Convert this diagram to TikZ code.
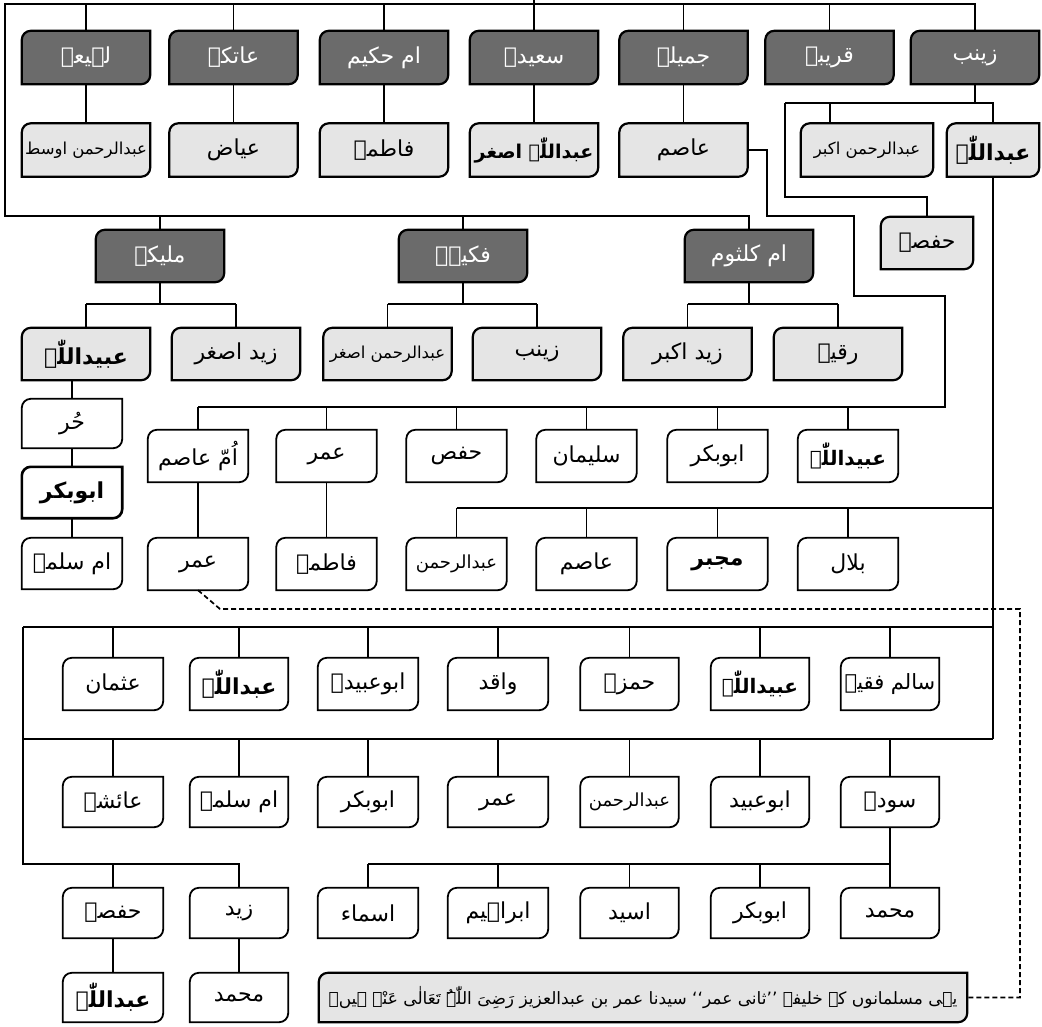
\documentclass[tikz,border=0pt]{standalone}
\usepackage{fontspec}
\usetikzlibrary{backgrounds}
\newfontfamily\urdu[Script=Arabic]{DejaVu Sans}
\TeXXeTstate=1
\newcommand\utxt[1]{\beginR #1\endR}
\newcommand\bxshape[2]{\path[#2] ([yshift=-9pt]#1.north west) arc[start angle=180,end angle=90,radius=9pt] -- (#1.north east) -- ([yshift=9pt]#1.south east) arc[start angle=0,end angle=-90,radius=9pt] -- (#1.south west) -- cycle;}
\tikzset{
  sz/.style={font=\urdu\fontsize{#1}{#1}\selectfont},
  szb/.style={font=\urdu\bfseries\fontsize{#1}{#1}\selectfont},
  nb/.style={inner sep=0pt, sz=22},
  heavy/.style={szb=22},
  wife/.style={nb, minimum width=128pt, minimum height=53pt, text=white},
  kid/.style={nb, minimum width=128pt, minimum height=53pt},
  gk/.style={nb, minimum width=100pt, minimum height=52pt},
  capn/.style={inner sep=0pt, sz=17, minimum width=648pt, minimum height=49pt},
  conn/.style={line width=1.7pt},
  dashc/.style={line width=1.7pt, dash pattern=on 5pt off 3pt},
  darkbox/.style={fill=black!58, draw=black, line width=2.2pt},
  lightbox/.style={fill=black!10, draw=black, line width=2.2pt},
  whitebox/.style={fill=white, draw=black, line width=1.8pt},
  thickbox/.style={fill=white, draw=black, line width=2.6pt},
}
\begin{document}
\begin{tikzpicture}[x=1pt,y=1pt]
\useasboundingbox (0,0) rectangle (1042,-1026);
% wives, first row
\node[wife] (wLah) at (86,-57.5) {\utxt{لہیعہ}};
\node[wife] (wAat) at (233.5,-57.5) {\utxt{عاتکہ}};
\node[wife] (wUmH) at (384,-57.5) {\utxt{ام حکیم}};
\node[wife] (wSae) at (534,-57.5) {\utxt{سعیدہ}};
\node[wife] (wJam) at (683.5,-57.5) {\utxt{جمیلہ}};
\node[wife] (wQar) at (829.5,-57.5) {\utxt{قریبہ}};
\node[wife] (wZay) at (975,-57.5) {\utxt{زینب}};
% children, first row
\node[kid,sz=16.5] (cAro) at (86,-150) {\utxt{عبدالرحمن اوسط}};
\node[kid] (cIya) at (233.5,-150) {\utxt{عیاض}};
\node[kid] (cFat) at (384,-150) {\utxt{فاطمہ}};
\node[kid,szb=19] (cAsg) at (534,-150) {\utxt{عبداللّٰہ اصغر}};
\node[kid] (cAsi) at (683.5,-150) {\utxt{عاصم}};
\node[kid,minimum width=132pt,sz=16.5] (cArk) at (867,-150) {\utxt{عبدالرحمن اکبر}};
\node[kid,heavy,minimum width=92pt] (cAbd) at (993,-150) {\utxt{عبداللّٰہ}};
\node[kid,minimum width=92pt,minimum height=52pt] (cHaf) at (927,-243) {\utxt{حفصہ}};
% wives, second row
\node[wife,minimum height=52pt] (wMal) at (160,-256) {\utxt{ملیکہ}};
\node[wife,minimum height=52pt] (wFak) at (463,-256) {\utxt{فکیہہ}};
\node[wife,minimum height=52pt] (wUmK) at (749,-256) {\utxt{ام کلثوم}};
% children, second row
\node[kid,heavy,minimum height=52pt] (cUbd) at (86,-354) {\utxt{عبیداللّٰہ}};
\node[kid,minimum height=52pt] (cZas) at (236,-354) {\utxt{زید اصغر}};
\node[kid,minimum height=52pt,sz=16.5] (cAra) at (387.5,-354) {\utxt{عبدالرحمن اصغر}};
\node[kid,minimum height=52pt] (cZyn) at (537,-354) {\utxt{زینب}};
\node[kid,minimum height=52pt] (cZak) at (687.5,-354) {\utxt{زید اکبر}};
\node[kid,minimum height=52pt] (cRuq) at (838,-354) {\utxt{رقیہ}};
% chain under Ubaidullah
\node[gk,minimum height=49pt] (gHur) at (72,-423.5) {\utxt{حُر}};
\node[gk,heavy,minimum height=51pt] (gAbk) at (72,-492.5) {\utxt{ابوبکر}};
\node[gk,minimum height=51pt] (gUms) at (72,-563.5) {\utxt{ام سلمہ}};
% children of Asim
\node[gk] (aUma) at (198,-456) {\utxt{اُمّ عاصم}};
\node[gk] (aUmr) at (326.5,-456) {\utxt{عمر}};
\node[gk] (aHfs) at (456.5,-456) {\utxt{حفص}};
\node[gk] (aSul) at (586.5,-456) {\utxt{سلیمان}};
\node[gk] (aAbk) at (717.5,-456) {\utxt{ابوبکر}};
\node[gk,szb=20] (aUbd) at (848,-456) {\utxt{عبیداللّٰہ}};
\node[gk] (aUmr2) at (198,-564) {\utxt{عمر}};
\node[gk] (aFat) at (326.5,-564) {\utxt{فاطمہ}};
% children of Abdullah
\node[gk,sz=18] (bAbr) at (456.5,-564) {\utxt{عبدالرحمن}};
\node[gk] (bAsm) at (586.5,-564) {\utxt{عاصم}};
\node[gk,heavy] (bMjb) at (717.5,-564) {\utxt{مجبر}};
\node[gk] (bBll) at (848,-564) {\utxt{بلال}};
\node[gk] (r1a) at (113,-684) {\utxt{عثمان}};
\node[gk,heavy,minimum width=98pt] (r1b) at (239,-684) {\utxt{عبداللّٰہ}};
\node[gk] (r1c) at (368,-684) {\utxt{ابوعبیدہ}};
\node[gk] (r1d) at (498,-684) {\utxt{واقد}};
\node[gk,minimum width=98pt] (r1e) at (629.5,-684) {\utxt{حمزہ}};
\node[gk,szb=20,minimum width=98pt] (r1f) at (760,-684) {\utxt{عبیداللّٰہ}};
\node[gk,sz=21,minimum width=98pt] (r1g) at (890,-684) {\utxt{سالم فقیہ}};
\node[gk,minimum height=50pt] (r2a) at (113,-802) {\utxt{عائشہ}};
\node[gk,minimum height=50pt,minimum width=98pt] (r2b) at (239,-802) {\utxt{ام سلمہ}};
\node[gk,minimum height=50pt] (r2c) at (368,-802) {\utxt{ابوبکر}};
\node[gk,minimum height=50pt] (r2d) at (498,-802) {\utxt{عمر}};
\node[gk,sz=18,minimum height=50pt,minimum width=98pt] (r2e) at (629.5,-802) {\utxt{عبدالرحمن}};
\node[gk,minimum height=50pt,minimum width=98pt] (r2f) at (760,-802) {\utxt{ابوعبید}};
\node[gk,minimum height=50pt,minimum width=98pt] (r2g) at (890,-802) {\utxt{سودہ}};
\node[gk,minimum height=50pt] (r3a) at (113,-913) {\utxt{حفصہ}};
\node[gk,minimum height=50pt,minimum width=98pt] (r3b) at (239,-913) {\utxt{زید}};
\node[gk,minimum height=50pt] (r3c) at (368,-913) {\utxt{اسماء}};
\node[gk,minimum height=50pt] (r3d) at (498,-913) {\utxt{ابراہیم}};
\node[gk,minimum height=50pt,minimum width=98pt] (r3e) at (629.5,-913) {\utxt{اسید}};
\node[gk,minimum height=50pt,minimum width=98pt] (r3f) at (760,-913) {\utxt{ابوبکر}};
\node[gk,minimum height=50pt,minimum width=98pt] (r3g) at (890,-913) {\utxt{محمد}};
\node[gk,heavy,minimum height=49pt] (r4a) at (113,-997.5) {\utxt{عبداللّٰہ}};
\node[gk,minimum height=49pt,minimum width=98pt] (r4b) at (239,-997.5) {\utxt{محمد}};
\node[capn] (cap) at (643,-997.5) {\utxt{یہی مسلمانوں کے خلیفہ ’’ثانی عمر‘‘ سیدنا عمر بن عبدالعزیز رَضِیَ اللّٰہُ تَعَالٰی عَنْہ ہیں۔}};

\begin{pgfonlayer}{background}
\foreach \n in {wLah,wAat,wUmH,wSae,wJam,wQar,wZay,wMal,wFak,wUmK} {\bxshape{\n}{darkbox}}
\foreach \n in {cAro,cIya,cFat,cAsg,cAsi,cArk,cAbd,cHaf,cUbd,cZas,cAra,cZyn,cZak,cRuq,cap} {\bxshape{\n}{lightbox}}
\foreach \n in {gHur,gUms,aUma,aUmr,aHfs,aSul,aAbk,aUbd,aUmr2,aFat,bAbr,bAsm,bMjb,bBll,r1a,r1b,r1c,r1d,r1e,r1f,r1g,r2a,r2b,r2c,r2d,r2e,r2f,r2g,r3a,r3b,r3c,r3d,r3e,r3f,r3g,r4a,r4b} {\bxshape{\n}{whitebox}}
\bxshape{gAbk}{thickbox}
\end{pgfonlayer}

\begin{scope}[conn]
\coordinate (par) at (534,0);
\draw (par) -- (wSae.north);
\draw (wZay.north) |- (5,-4) -- (5,-216) -| (wUmK.north);
\foreach \n in {wLah,wAat,wUmH,wJam,wQar} {\draw (\n.north) -- (\n.north |- 0,-4);}
\foreach \n in {wMal,wFak} {\draw (\n.north) -- (\n.north |- 0,-216);}
\foreach \a/\b in {wLah/cAro,wAat/cIya,wUmH/cFat,wSae/cAsg,wJam/cAsi} {\draw (\a.south) -- (\b.north);}
% Zaynab's children
\coordinate (zL) at (785,-103);
\coordinate (zA) at (830,-103);
\coordinate (zH) at (785,-197);
\draw (wZay.south) -- (wZay.south |- zL);
\draw (zL) -- (zL -| cAbd.north) -- (cAbd.north);
\draw (zA) -- (zA |- cArk.north);
\draw (zL) -- (zH) -| (cHaf.north);
% Malika, Fukayha, Umm Kulthum
\foreach \p/\a/\b in {wMal/cUbd/cZas,wFak/cAra/cZyn,wUmK/cZak/cRuq} {
  \draw (\p.south) -- (\p.south |- 0,-304);
  \draw (\a.north |- 0,-304) -- (\b.north |- 0,-304);
  \draw (\a.north) -- (\a.north |- 0,-304);
  \draw (\b.north) -- (\b.north |- 0,-304);
}
\draw (cUbd.south -| gHur.north) -- (gHur.north);
\draw (gHur) -- (gAbk);
\draw (gAbk) -- (gUms);
% Asim's children
\draw (cAsi.east) -| (767,-216) -| (854,-296) -| (945,-407) -- (aUma.north |- 0,-407);
\foreach \n in {aUma,aUmr,aHfs,aSul,aAbk,aUbd} {\draw (\n.north) -- (\n.north |- 0,-407);}
\draw (aUma) -- (aUmr2);
\draw (aUmr) -- (aFat);
% Abdullah's children
\coordinate (bR) at (993,-508);
\draw (cAbd.south) -- (cAbd.south |- 0,-739);
\draw (bAbr.north |- bR) -- (bR);
\foreach \n in {bAbr,bAsm,bMjb,bBll} {\draw (\n.north) -- (\n.north |- bR);}
\coordinate (L1) at (23,-627);
\coordinate (L2) at (23,-739);
\coordinate (L3) at (23,-864);
\draw (L1) -- (L1 -| cAbd.south);
\draw (L2) -- (L2 -| cAbd.south);
\draw (L1) -- (L3) -| (r3b.north);
\foreach \n in {r1a,r1b,r1c,r1d,r1e,r1f,r1g} {\draw (\n.north) -- (\n.north |- L1);}
\foreach \n in {r2a,r2b,r2c,r2d,r2e,r2f,r2g} {\draw (\n.north) -- (\n.north |- L2);}
\draw (r3a.north) -- (r3a.north |- L3);
\draw (r3c.north |- L3) -- (r3g.north |- L3);
\draw (r2g.south) -- (r3g.north);
\foreach \n in {r3c,r3d,r3e,r3f} {\draw (\n.north) -- (\n.north |- L3);}
\draw (r3a) -- (r4a);
\draw (r3b) -- (r4b);
\end{scope}
\draw[dashc] (aUmr2.south) -- (220,-609) -- (1020,-609) |- (cap.east);
\end{tikzpicture}
\end{document}
